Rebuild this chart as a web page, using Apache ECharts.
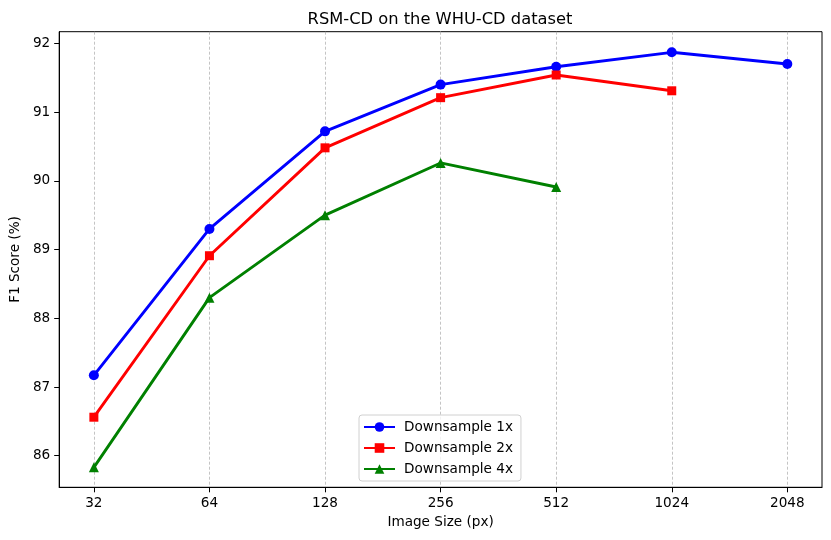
<!DOCTYPE html>
<html>
<head>
<meta charset="utf-8">
<script src="https://cdn.jsdelivr.net/npm/echarts@6/dist/echarts.min.js"></script>
<style>html,body{margin:0;padding:0;background:#fff}#c{width:831px;height:540px}</style>
</head>
<body>
<div id="c"></div>
<script>
const imageSizes = [32, 64, 128, 256, 512, 1024, 2048];
const down1x = [87.17, 89.30, 90.72, 91.40, 91.66, 91.87, 91.70];
const down2x = [86.56, 88.91, 90.48, 91.21, 91.54, 91.31];
const down4x = [85.83, 88.30, 89.50, 90.26, 89.91];
const yTicks = [86, 87, 88, 89, 90, 91, 92];
const seriesNames = ['Downsample 1x', 'Downsample 2x', 'Downsample 4x'];

const xTicks = imageSizes.map(s => Math.log2(s));
const toPts = arr => arr.map((v, i) => [Math.log2(imageSizes[i]), v]);
const font = 'DejaVu Sans';

const chart = echarts.init(document.getElementById('c'), null, {renderer: 'canvas'});
chart.setOption({
  animation: false,
  backgroundColor: '#fff',
  title: {
    text: 'RSM-CD on the WHU-CD dataset',
    left: 435, top: 7, textAlign: 'center',
    textStyle: {fontFamily: font, fontSize: 16.3, fontWeight: 'normal', color: '#000'}
  },
  grid: {left: 56.7, right: 9, top: 31.7, bottom: 52.7, show: true, borderColor: '#000', borderWidth: 1, containLabel: false},
  legend: {
    orient: 'vertical', left: 359, top: 415,
    backgroundColor: 'rgba(255,255,255,0.8)', borderColor: '#d0d0d0', borderWidth: 1, borderRadius: 3,
    padding: [5, 8, 5, 4], itemGap: 7, itemWidth: 31, itemHeight: 12,
    textStyle: {fontFamily: font, fontSize: 13.6, color: '#000', padding: [0, 0, 0, 4]},
    data: seriesNames
  },
  xAxis: {
    type: 'value', min: 4.7, max: 11.3,
    name: 'Image Size (px)', nameLocation: 'middle', nameGap: 28,
    nameTextStyle: {fontFamily: font, fontSize: 13.6, color: '#000'},
    axisLine: {show: true, lineStyle: {color: '#000', width: 1}},
    axisTick: {show: true, length: 5, customValues: xTicks, lineStyle: {color: '#000', width: 1}},
    axisLabel: {customValues: xTicks, margin: 9, fontFamily: font, fontSize: 13.6, color: '#000',
      formatter: v => String(Math.round(Math.pow(2, v)))},
    splitLine: {show: true, lineStyle: {color: '#aaa', width: 0.7, type: [3, 2]}}
  },
  yAxis: {
    type: 'value', min: 85.54, max: 92.17,
    name: 'F1 Score (%)', nameLocation: 'middle', nameGap: 31, nameRotate: 90,
    nameTextStyle: {fontFamily: font, fontSize: 13.6, color: '#000'},
    axisLine: {show: true, lineStyle: {color: '#000', width: 1}},
    axisTick: {show: true, length: 5, customValues: yTicks, lineStyle: {color: '#000', width: 1}},
    axisLabel: {customValues: yTicks, margin: 9, fontFamily: font, fontSize: 13.6, color: '#000'},
    splitLine: {show: false}
  },
  series: [
    {name: seriesNames[0], type: 'line', data: toPts(down1x), symbol: 'circle', symbolSize: 10,
      itemStyle: {color: '#0000ff'}, lineStyle: {color: '#0000ff', width: 2.9}},
    {name: seriesNames[1], type: 'line', data: toPts(down2x), symbol: 'rect', symbolSize: 9,
      itemStyle: {color: '#ff0000'}, lineStyle: {color: '#ff0000', width: 2.9}},
    {name: seriesNames[2], type: 'line', data: toPts(down4x), symbol: 'triangle', symbolSize: 10,
      itemStyle: {color: '#008000'}, lineStyle: {color: '#008000', width: 2.9}}
  ]
});
</script>
</body>
</html>
